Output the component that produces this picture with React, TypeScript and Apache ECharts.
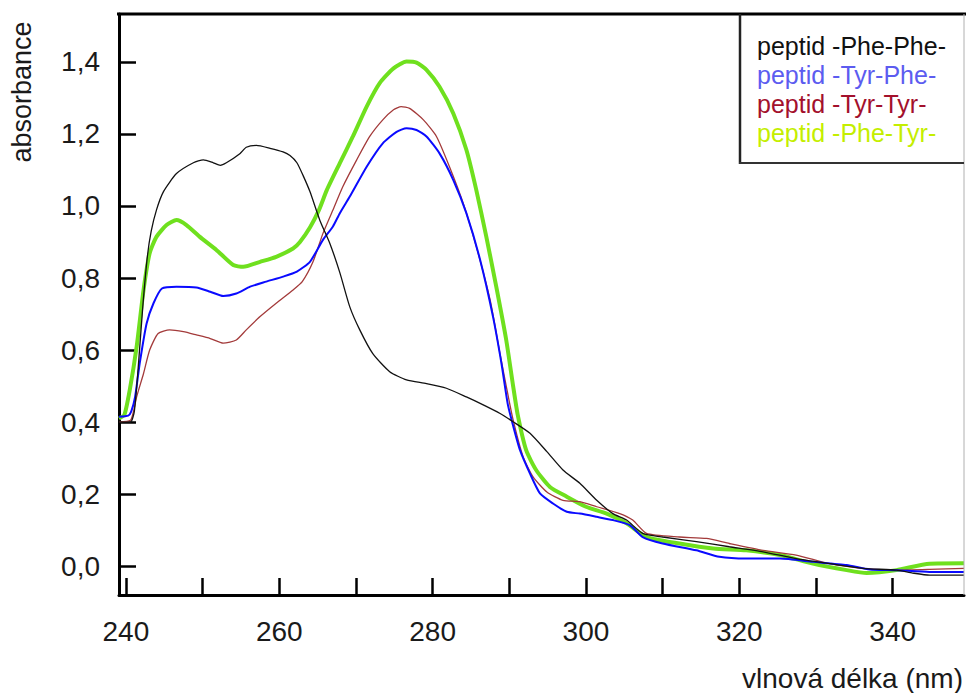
import React, { useEffect, useRef } from "react";
import * as echarts from "echarts";

const FONT = "'Liberation Sans', Arial, sans-serif";

const seriesNames = ["peptid -Phe-Phe-", "peptid -Tyr-Phe-", "peptid -Tyr-Tyr-", "peptid -Phe-Tyr-"];
const lineColors = ["#111111", "#0a0aff", "#a33a3a", "#6fe01e"];
const legendColors = ["#111111", "#5c5cf0", "#a3102c", "#c4ee00"];

const xTickValues = [240, 250, 260, 270, 280, 290, 300, 310, 320, 330, 340];
const xLabelValues = [240, 260, 280, 300, 320, 340];
const yTickValues = [0, 0.2, 0.4, 0.6, 0.8, 1.0, 1.2, 1.4];

const phePhe: [number, number][] = [
  [239.1, 0.4], [240.6, 0.4], [241.1, 0.43], [241.6, 0.55], [242.2, 0.72], [242.8, 0.86], [243.3, 0.93],
  [244.0, 0.99], [244.9, 1.04], [246.6, 1.09], [248.8, 1.12], [250.1, 1.128], [251.4, 1.12], [252.3, 1.113],
  [253.1, 1.12], [254.9, 1.146], [255.7, 1.163], [257.0, 1.168], [258.8, 1.16], [260.5, 1.15], [261.4, 1.14],
  [262.3, 1.12], [263.1, 1.085], [264.0, 1.04], [265.3, 0.96], [266.6, 0.896], [267.9, 0.815], [269.2, 0.72],
  [270.5, 0.656], [272.2, 0.59], [274.4, 0.54], [276.6, 0.517], [279.2, 0.507], [281.8, 0.494], [284.4, 0.47],
  [286.6, 0.448], [288.8, 0.424], [290.5, 0.401], [292.7, 0.369], [294.9, 0.318], [297.0, 0.267], [299.2, 0.23],
  [301.4, 0.183], [303.5, 0.146], [305.3, 0.128], [307.4, 0.091], [310.0, 0.081], [314.4, 0.068], [318.7, 0.054],
  [323.1, 0.04], [327.4, 0.021], [331.8, 0.007], [336.1, -0.006], [340.5, -0.011], [342.6, -0.019],
  [344.8, -0.025], [349.3, -0.025],
];

const tyrPhe: [number, number][] = [
  [239.1, 0.415], [240.3, 0.418], [240.7, 0.43], [241.2, 0.47], [241.8, 0.563], [242.7, 0.674], [243.6, 0.73],
  [244.7, 0.771], [246.6, 0.776], [249.2, 0.774], [251.0, 0.762], [252.7, 0.75], [254.4, 0.757], [256.2, 0.776],
  [258.3, 0.79], [260.5, 0.804], [262.3, 0.818], [264.0, 0.845], [265.7, 0.906], [267.0, 0.943], [267.9, 0.98],
  [269.2, 1.026], [271.4, 1.109], [273.5, 1.174], [275.3, 1.206], [276.6, 1.216], [277.9, 1.211], [279.2, 1.193],
  [280.9, 1.146], [282.7, 1.072], [284.4, 0.98], [286.2, 0.85], [287.9, 0.69], [289.0, 0.56], [289.8, 0.45],
  [290.5, 0.39], [291.4, 0.322], [292.7, 0.257], [294.0, 0.202], [295.7, 0.174], [297.5, 0.151], [299.2, 0.146],
  [301.4, 0.137], [303.5, 0.128], [305.7, 0.114], [307.4, 0.081], [310.0, 0.063], [314.4, 0.044], [317.4, 0.026],
  [320.9, 0.021], [325.3, 0.021], [329.6, 0.012], [334.0, 0.003], [337.0, -0.009], [340.5, -0.011],
  [344.8, -0.016], [349.3, -0.016],
];

const tyrTyr: [number, number][] = [
  [239.1, 0.4], [240.6, 0.405], [241.0, 0.43], [241.4, 0.47], [242.3, 0.535], [243.1, 0.6], [244.2, 0.646],
  [245.7, 0.656], [247.5, 0.651], [249.2, 0.642], [251.0, 0.632], [252.7, 0.619], [254.4, 0.628], [255.7, 0.656],
  [257.5, 0.693], [259.6, 0.73], [261.8, 0.767], [263.0, 0.79], [264.4, 0.845], [265.7, 0.924], [267.0, 0.989],
  [268.3, 1.054], [270.1, 1.128], [271.8, 1.193], [273.5, 1.239], [274.9, 1.267], [275.9, 1.276], [277.0, 1.271],
  [278.8, 1.239], [280.5, 1.193], [282.2, 1.109], [284.0, 1.007], [285.7, 0.887], [287.5, 0.739], [288.7, 0.6],
  [289.6, 0.5], [290.5, 0.406], [291.8, 0.304], [293.1, 0.248], [294.9, 0.206], [297.0, 0.183], [299.2, 0.179],
  [301.4, 0.165], [304.4, 0.146], [306.1, 0.128], [307.9, 0.091], [312.2, 0.081], [315.7, 0.077], [318.7, 0.063],
  [323.1, 0.044], [327.4, 0.031], [331.8, 0.007], [336.1, -0.006], [340.5, -0.011], [344.8, -0.009],
  [349.3, -0.006],
];

const pheTyr: [number, number][] = [
  [239.1, 0.41], [239.8, 0.42], [240.5, 0.489], [241.4, 0.609], [242.3, 0.767], [243.1, 0.869], [244.0, 0.915],
  [245.3, 0.947], [246.6, 0.961], [247.9, 0.947], [249.6, 0.915], [251.8, 0.878], [254.0, 0.836], [255.3, 0.831],
  [257.5, 0.845], [259.6, 0.859], [261.8, 0.882], [262.7, 0.9], [264.0, 0.94], [265.2, 0.99], [266.2, 1.044],
  [267.9, 1.119], [269.6, 1.193], [271.4, 1.276], [273.1, 1.341], [274.9, 1.382], [276.6, 1.401], [277.9, 1.398],
  [279.2, 1.378], [280.9, 1.331], [282.7, 1.257], [284.4, 1.156], [285.7, 1.044], [287.0, 0.915], [288.3, 0.776],
  [289.6, 0.628], [290.5, 0.5], [291.1, 0.42], [292.2, 0.322], [293.5, 0.267], [295.3, 0.22], [297.5, 0.193],
  [300.0, 0.165], [302.7, 0.146], [305.3, 0.119], [307.9, 0.081], [312.2, 0.063], [316.6, 0.049], [320.9, 0.044],
  [325.3, 0.031], [329.6, 0.007], [334.0, -0.011], [336.6, -0.019], [340.5, -0.011], [344.8, 0.007],
  [349.3, 0.008],
];

const seriesData = [phePhe, tyrPhe, tyrTyr, pheTyr];
const lineWidths = [1.3, 2, 1.3, 4];
const drawOrder = [3, 2, 1, 0];

export default function App() {
  const ref = useRef<HTMLDivElement>(null);

  useEffect(() => {
    if (!ref.current) return;
    const chart = echarts.init(ref.current, undefined, { renderer: "svg" });
    const textColor = "#1a1a1a";
    const option = {
      animation: false,
      backgroundColor: "#ffffff",
      grid: { left: 119, right: 2, top: 14, bottom: 98, containLabel: false },
      legend: {
        orient: "vertical",
        left: 752,
        top: 33,
        padding: 0,
        icon: "none",
        itemWidth: 0,
        itemHeight: 24,
        itemGap: 4.3,
        selectedMode: false,
        textStyle: { fontSize: 25, fontFamily: FONT, lineHeight: 24 },
        data: seriesNames.map((n, i) => ({ name: n, textStyle: { color: legendColors[i] } })),
        z: 20,
      },
      xAxis: {
        type: "value",
        min: 239.1,
        max: 349.3,
        axisLine: { show: true, onZero: false, lineStyle: { color: "#000", width: 3 } },
        axisTick: {
          show: true,
          inside: true,
          length: 17,
          customValues: xTickValues,
          lineStyle: { color: "#000", width: 2.5 },
        },
        axisLabel: {
          customValues: xLabelValues,
          margin: 22,
          fontSize: 28,
          color: textColor,
          fontFamily: FONT,
        },
        splitLine: { show: false },
      },
      yAxis: {
        type: "value",
        min: -0.08,
        max: 1.533,
        axisLine: { show: true, onZero: false, lineStyle: { color: "#000", width: 3 } },
        axisTick: {
          show: true,
          inside: true,
          length: 17,
          customValues: yTickValues,
          lineStyle: { color: "#000", width: 2.5 },
        },
        axisLabel: {
          customValues: yTickValues,
          margin: 19,
          fontSize: 28,
          color: textColor,
          fontFamily: FONT,
          formatter: (v: number) => v.toFixed(1).replace(".", ","),
        },
        splitLine: { show: false },
      },
      graphic: [
        { type: "line", z: 30, shape: { x1: 117, y1: 14, x2: 966, y2: 14 }, style: { stroke: "#000", lineWidth: 3 } },
        { type: "line", z: 30, shape: { x1: 964, y1: 14, x2: 964, y2: 595 }, style: { stroke: "#b0b0b0", lineWidth: 1 } },
        { type: "line", z: 30, shape: { x1: 740, y1: 14, x2: 740, y2: 164 }, style: { stroke: "#222", lineWidth: 2.5 } },
        { type: "line", z: 30, shape: { x1: 739, y1: 163, x2: 964, y2: 163 }, style: { stroke: "#333", lineWidth: 2 } },
        {
          type: "text",
          x: 22,
          y: 92,
          rotation: Math.PI / 2,
          style: { text: "absorbance", fontSize: 27, fontFamily: FONT, fill: textColor, align: "center", verticalAlign: "middle" },
        },
        {
          type: "text",
          x: 963,
          y: 678,
          style: { text: "vlnová délka (nm)", fontSize: 28, fontFamily: FONT, fill: textColor, align: "right", verticalAlign: "middle" },
        },
      ],
      series: drawOrder.map((i) => ({
        name: seriesNames[i],
        type: "line",
        data: seriesData[i],
        showSymbol: false,
        symbol: "none",
        silent: true,
        clip: true,
        smooth: 0.2,
        lineStyle: { color: lineColors[i], width: lineWidths[i] },
        itemStyle: { color: lineColors[i] },
        emphasis: { disabled: true },
      })),
    };
    chart.setOption(option);
    return () => chart.dispose();
  }, []);

  return <div ref={ref} style={{ position: "absolute", left: 0, top: 0, width: 966, height: 693 }} />;
}
